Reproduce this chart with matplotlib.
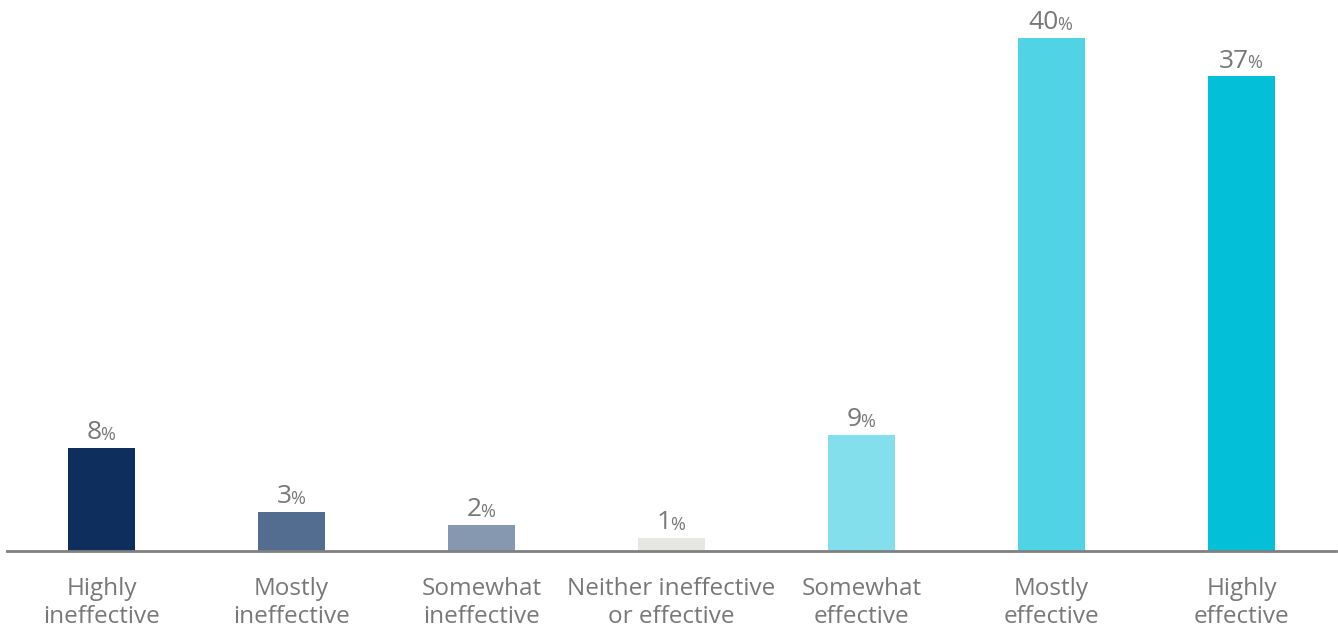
import matplotlib
matplotlib.use('Agg')
import matplotlib.pyplot as plt

categories = ['Highly\nineffective', 'Mostly\nineffective', 'Somewhat\nineffective',
              'Neither ineffective\nor effective', 'Somewhat\neffective', 'Mostly\neffective',
              'Highly\neffective']
values = [8, 3, 2, 1, 9, 40, 37]
colors = ['#0e2f5e', '#526d8f', '#8598b0', '#e6e7e2', '#82dfeb', '#4fd3e5', '#03bfd8']

plt.rcParams['font.family'] = ['Open Sans', 'DejaVu Sans']
text_color = '#787878'

fig = plt.figure(figsize=(13.38, 6.29), dpi=100)
ax = fig.add_axes([0.00486, 0.1248, 0.994, 0.8752])

x = list(range(len(values)))
ax.bar(x, values, width=0.353, color=colors)
ax.set_xlim(-0.5, 6.5)
ax.set_ylim(0, 42.97)

# number and a smaller % sign right after it
for xi, v in zip(x, values):
    num = ax.annotate(str(v), xy=(xi, v), xytext=(-5.5, 2), textcoords='offset points',
                      ha='center', va='bottom', fontsize=19, color=text_color)
    ax.annotate('%', xy=(1, 0), xycoords=num, xytext=(-1, 1), textcoords='offset points',
                ha='left', va='bottom', fontsize=13, color=text_color)

ax.set_xticks(x)
ax.set_xticklabels(categories, fontsize=17.5, color=text_color, linespacing=1.25)
ax.tick_params(axis='x', length=0, pad=19)
ax.set_yticks([])
for s in ['top', 'left', 'right']:
    ax.spines[s].set_visible(False)
ax.spines['bottom'].set_color('#808080')
ax.spines['bottom'].set_linewidth(2)

fig.savefig('out.png', dpi=100)
